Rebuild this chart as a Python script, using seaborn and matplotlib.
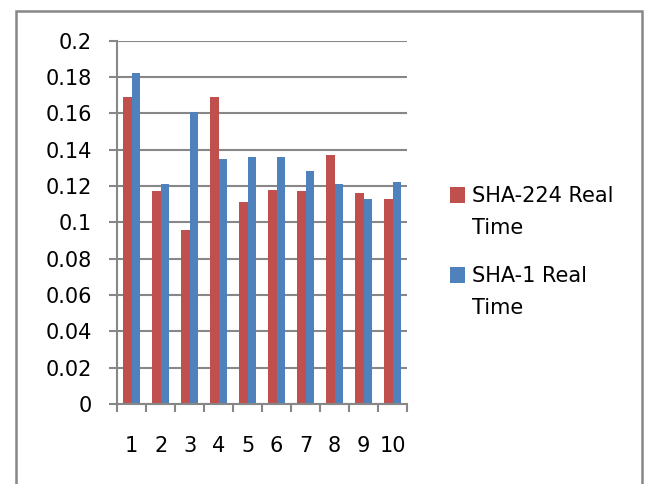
import numpy as np
import pandas as pd
import matplotlib
matplotlib.use('Agg')
import matplotlib.pyplot as plt
from matplotlib.patches import Rectangle
import seaborn as sns

sns.set_style('white')
plt.rcParams['font.family'] = ['DejaVu Sans']
plt.rcParams['text.color'] = 'black'
plt.rcParams['xtick.labelcolor'] = 'black'
plt.rcParams['ytick.labelcolor'] = 'black'

# data
runs = ['1', '2', '3', '4', '5', '6', '7', '8', '9', '10']
sha224 = [0.169, 0.117, 0.096, 0.169, 0.111, 0.118, 0.117, 0.137, 0.116, 0.113]
sha1 = [0.182, 0.121, 0.161, 0.135, 0.136, 0.136, 0.128, 0.121, 0.113, 0.122]
series_names = ['SHA-224 Real Time', 'SHA-1 Real Time']
legend_lines = [('SHA-224 Real', 'Time'), ('SHA-1 Real', 'Time')]
yticks = [0, 0.02, 0.04, 0.06, 0.08, 0.1, 0.12, 0.14, 0.16, 0.18, 0.2]

red = '#C0504D'
blue = '#4F81BD'
grey = '#878787'
fs = 15

df = pd.DataFrame({
    'run': runs * 2,
    'time': sha224 + sha1,
    'series': [series_names[0]] * len(runs) + [series_names[1]] * len(runs),
})

W, H = 648, 484
fig = plt.figure(figsize=(W / 100, H / 100), dpi=100)
ax = fig.add_axes([117.3 / W, 1 - 404 / H, (407 - 117.3) / W, (404 - 40.7) / H])

sns.barplot(data=df, x='run', y='time', hue='series', order=runs,
            hue_order=series_names, palette=[red, blue], width=0.575,
            saturation=1, legend=False, linewidth=0, ax=ax)

# axes styling, excel-like
ax.set_xlim(-0.5, len(runs) - 0.5)
ax.set_ylim(0, 0.2)
ax.set_yticks(yticks)
ax.set_yticklabels([f'{v:g}' for v in yticks])
ax.set_xlabel('')
ax.set_ylabel('')
ax.yaxis.grid(True, color=grey, linewidth=1.5)
ax.set_axisbelow(True)
for s in ['top', 'right']:
    ax.spines[s].set_visible(False)
for s in ['left', 'bottom']:
    ax.spines[s].set_color(grey)
    ax.spines[s].set_linewidth(1.5)

ax.tick_params(axis='y', direction='out', length=5.8, width=1.5, color=grey,
               pad=12.6, labelsize=fs, left=True)
ax.tick_params(axis='x', which='major', length=0, pad=23, labelsize=fs)
ax.set_xticks(np.arange(-0.5, len(runs), 1), minor=True)
ax.tick_params(axis='x', which='minor', direction='out', length=5.8, width=1.5,
               color=grey, bottom=True)

# legend, drawn by hand so the square sits at the first line
legend_colors = [red, blue]
box_tops = [187, 267]
for i, (line1, line2) in enumerate(legend_lines):
    top = box_tops[i]
    fig.add_artist(Rectangle((450 / W, 1 - (top + 16) / H), 15 / W, 16 / H,
                             transform=fig.transFigure, facecolor=legend_colors[i],
                             edgecolor='none'))
    fig.text(472 / W, 1 - (top + 15.5) / H, line1, fontsize=fs, va='baseline', ha='left')
    fig.text(472 / W, 1 - (top + 47) / H, line2, fontsize=fs, va='baseline', ha='left')

# outer frame
fig.add_artist(Rectangle((16 / W, -0.05), (642 - 16) / W, 1.05 - 11 / H,
                         transform=fig.transFigure, fill=False, edgecolor=grey,
                         linewidth=1.8, clip_on=False))

fig.savefig('out.png', dpi=100)
